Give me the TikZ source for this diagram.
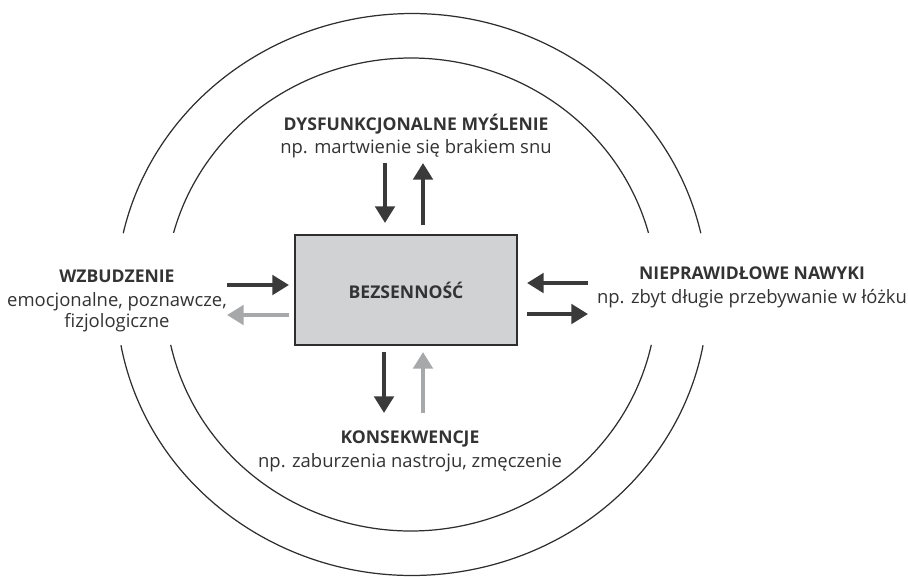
\documentclass[tikz,border=0pt]{standalone}
\usepackage{fontspec}
\setmainfont{Open Sans}
\usetikzlibrary{arrows.meta, positioning, calc}
\definecolor{txt}{HTML}{333333}
\definecolor{ringcol}{HTML}{2E2E2E}
\definecolor{boxfill}{HTML}{D1D2D4}
\definecolor{arrdark}{HTML}{3A3A3A}
\definecolor{arrlight}{HTML}{A7A8AA}
\newcommand{\headline}[1]{{\fontsize{10}{11.6}\selectfont\bfseries #1}}
\tikzset{
  scheme/.style={
	x=0.02cm, y=0.02cm, % one unit is one pixel of the sketch
	every node/.style={font=\fontsize{10.5}{11.6}\selectfont, text=txt},
  },
  core/.style={draw=ringcol, fill=boxfill, line width=0.8pt, minimum width=4.44cm, minimum height=2.2cm}, % the central box
  factor/.style={align=center, inner sep=0pt}, % the four labels
  ring/.style={draw=ringcol, line width=0.7pt}, % the two ellipses
  darr/.style={-{Triangle[length=9.5pt,width=11pt]}, line width=2.3pt, draw=arrdark}, % dark arrows
  larr/.style={darr, draw=arrlight, -{Triangle[length=9.5pt,width=11pt,fill=arrlight]}}, % light arrows
}

\begin{document}
\begin{tikzpicture}[scheme]
	\useasboundingbox (0,0) rectangle (908,-576);

	% ellipses, open at the left and the right
	\draw[ring] (411,-294.5) ++(15.1:4.92cm and 4.73cm) arc[start angle=15.1, end angle=164.9, x radius=4.92cm, y radius=4.73cm];
	\draw[ring] (411,-294.5) ++(192.3:4.92cm and 4.73cm) arc[start angle=192.3, end angle=347.7, x radius=4.92cm, y radius=4.73cm];
	\draw[ring] (412,-294.5) ++(12.6:5.92cm and 5.62cm) arc[start angle=12.6, end angle=167.4, x radius=5.92cm, y radius=5.62cm];
	\draw[ring] (412,-294.5) ++(190.4:5.92cm and 5.62cm) arc[start angle=190.4, end angle=349.6, x radius=5.92cm, y radius=5.62cm];

	\node[core] (box) at (406,-290) {\headline{BEZSENNOŚĆ}};

	\node[factor] (think) at (416,-136) {\headline{DYSFUNKCJONALNE MYŚLENIE}\\[2pt] np. martwienie się brakiem snu};
	\node[factor] (arousal) at (117,-301) {\headline{WZBUDZENIE}\\[2pt] emocjonalne, poznawcze,\\ fizjologiczne};
	\node[factor] (habits) at (752,-287) {\headline{NIEPRAWIDŁOWE NAWYKI}\\[2pt] np. zbyt długie przebywanie w łóżku};
	\node[factor] (effects) at (410,-451) {\headline{KONSEKWENCJE}\\[2pt] np. zaburzenia nastroju, zmęczenie};

	% arrow ends
	\coordinate (t1) at (385,-163); \coordinate (t2) at (385,-223);
	\coordinate (t3) at (423,-225); \coordinate (t4) at (423,-163);
	\coordinate (b1) at (384,-352); \coordinate (b2) at (384,-413);
	\coordinate (b3) at (423,-413); \coordinate (b4) at (423,-352);
	\coordinate (l1) at (227,-285); \coordinate (l2) at (289,-285);
	\coordinate (l3) at (289,-315); \coordinate (l4) at (227,-315);
	\coordinate (r1) at (588,-283); \coordinate (r2) at (527,-283);
	\coordinate (r3) at (527,-314); \coordinate (r4) at (588,-314);

	\draw[darr] (t1) -- (t2);
	\draw[darr] (t3) -- (t4);
	\draw[darr] (b1) -- (b2);
	\draw[larr] (b3) -- (b4);
	\draw[darr] (l1) -- (l2);
	\draw[larr] (l3) -- (l4);
	\draw[darr] (r1) -- (r2);
	\draw[darr] (r3) -- (r4);
\end{tikzpicture}
\end{document}
